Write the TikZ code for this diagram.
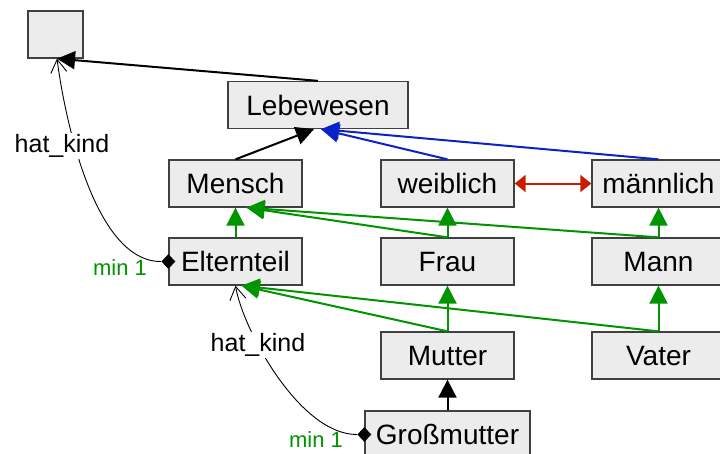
\documentclass[tikz,border=0pt]{standalone}
\usepackage{fontspec}
\setmainfont{Liberation Sans}
\usetikzlibrary{arrows.meta,shapes.geometric}
\definecolor{boxfill}{HTML}{ECECEC}
\definecolor{boxline}{HTML}{404040}
\definecolor{gengreen}{HTML}{009400}
\definecolor{genblue}{HTML}{0A22C8}
\definecolor{genred}{HTML}{C81E00}
\tikzset{
  cls/.style={draw=boxline, fill=boxfill, line width=1.3pt, minimum width=133pt, minimum height=47pt, inner sep=0pt, font=\fontsize{28}{30}\selectfont},
  gen/.style={line width=2pt, -{Triangle[length=18pt,width=18pt]}},
  ggen/.style={gen, draw=gengreen, color=gengreen},
  bgen/.style={gen, draw=genblue, color=genblue},
  rel/.style={line width=0.9pt, -{Straight Barb[length=13pt,width=16pt,line width=0.9pt]}},
  relabel/.style={fill=white, inner sep=1pt, font=\fontsize{25}{27}\selectfont},
  minlabel/.style={text=gengreen, inner sep=0pt, font=\fontsize{22}{24}\selectfont},
  dia/.style={diamond, fill=black, inner sep=0pt, minimum width=14pt, minimum height=15pt}
}
\begin{document}
\begin{tikzpicture}[x=1pt,y=-1pt]
\useasboundingbox (0,0) rectangle (720,453);
\clip (0,0) rectangle (720,453);
% nodes
\node[cls, minimum width=55pt] (top) at (55.5,34.5) {};
\node[cls, minimum width=180pt] (leb) at (318,105) {Lebewesen};
\node[cls] (mensch) at (235.5,183.5) {Mensch};
\node[cls] (weib) at (447.5,183.5) {weiblich};
\node[cls] (maenn) at (658.5,183.5) {männlich};
\node[cls] (eltern) at (235.5,261.5) {Elternteil};
\node[cls] (frau) at (447.5,261.5) {Frau};
\node[cls] (mann) at (658.5,261.5) {Mann};
\node[cls] (mutter) at (447.5,355.5) {Mutter};
\node[cls] (vater) at (658.5,355.5) {Vater};
\node[cls, minimum width=165pt] (gross) at (447.5,434.5) {Großmutter};
% generalizations
\draw[gen] (leb.north) -- ([xshift=1.5pt]top.south);
\draw[gen] (mensch.north) -- ([xshift=-4pt]leb.south);
\draw[bgen] (weib.north) -- ([xshift=3pt]leb.south);
\draw[bgen] (maenn.north) -- ([xshift=3pt]leb.south);
\draw[line width=2pt, genred, {Triangle[length=11pt,width=17pt]}-{Triangle[length=11pt,width=17pt]}] (weib.east) -- (maenn.west);
\draw[ggen] (eltern.north) -- (mensch.south);
\draw[ggen] (frau.north) -- ([xshift=11pt]mensch.south);
\draw[ggen] (mann.north) -- ([xshift=11pt]mensch.south);
\draw[ggen] (frau.north) -- (weib.south);
\draw[ggen] (mann.north) -- (maenn.south);
\draw[ggen] (mutter.north) -- ([xshift=6pt]eltern.south);
\draw[ggen] (vater.north) -- ([xshift=6pt]eltern.south);
\draw[ggen] (mutter.north) -- (frau.south);
\draw[ggen] (vater.north) -- (mann.south);
\draw[gen] (gross.north) -- (mutter.south);
% hat_kind relations
\node[dia] (d1) at (eltern.west) {};
\node[dia] (d2) at (gross.west) {};
\draw[rel] (d1.west) .. controls (95,262) and (65,120) .. ([xshift=1.5pt]top.south);
\draw[rel] (d2.west) .. controls (300,435) and (243,330) .. (eltern.south);
\node[relabel] (hk1) at (62,146) {hat\_kind};
\node[relabel] (hk2) at (258,345) {hat\_kind};
\node[minlabel] (m1) at (120,268) {min 1};
\node[minlabel] (m2) at (316,440) {min 1};
\end{tikzpicture}
\end{document}
